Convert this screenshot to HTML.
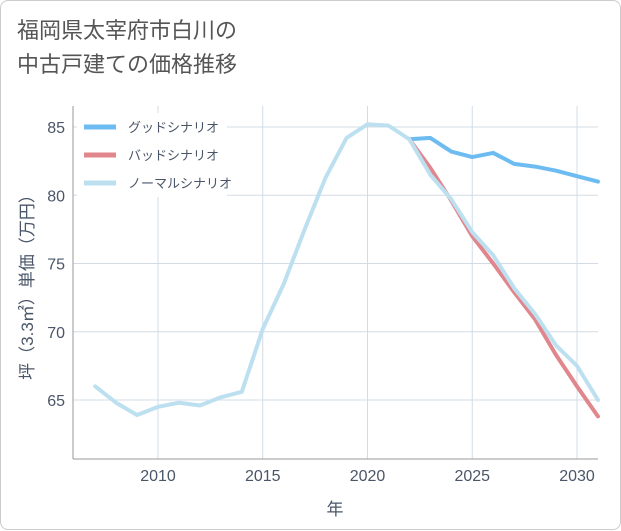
<!DOCTYPE html>
<html><head><meta charset="utf-8"><style>
html,body{margin:0;padding:0;background:#fff;}
#card{position:absolute;left:0;top:0;width:619px;height:528px;border:1px solid #ccc;border-radius:8px;background:#fff;font-family:"Liberation Sans","Noto Sans CJK JP",sans-serif;}
#title{position:absolute;left:16px;top:13px;font-size:22px;line-height:34px;color:#555;}
svg{position:absolute;left:0;top:0;}
</style></head><body>
<div id="card">
<div id="title">福岡県太宰府市白川の<br>中古戸建ての価格推移</div>
<svg id="chart" width="621" height="530"></svg>
</div>
<script>
const years=[2007,2008,2009,2010,2011,2012,2013,2014,2015,2016,2017,2018,2019,2020,2021,2022,2023,2024,2025,2026,2027,2028,2029,2030,2031];
const normal=[66.0,64.8,63.9,64.5,64.8,64.6,65.2,65.6,70.2,73.5,77.5,81.3,84.2,85.2,85.1,84.1,81.5,79.7,77.3,75.6,73.2,71.3,69.0,67.5,65.0];
const goodYears=[2022,2023,2024,2025,2026,2027,2028,2029,2030,2031];
const good=[84.1,84.2,83.2,82.8,83.1,82.3,82.1,81.8,81.4,81.0];
const bad=[84.1,82.0,79.6,77.0,75.0,72.9,70.9,68.3,66.0,63.8];
const xTicks=[2010,2015,2020,2025,2030];
const yTicks=[65,70,75,80,85];
const legendLabels=["グッドシナリオ","バッドシナリオ","ノーマルシナリオ"];
const colors=["#6cbcf2","#e0868c","#bde0f0"];
const svg=document.getElementById('chart');const NS="http://www.w3.org/2000/svg";
const L=72,R=597,T=105,B=458;const TC='#4a5668';
const x=v=>157+(v-2010)*(419/20);
const y=v=>399-(v-65)*(273/20);
function mk(t,a,p){const e=document.createElementNS(NS,t);for(const k in a)e.setAttribute(k,a[k]);(p||svg).appendChild(e);return e;}
const grid=mk('g',{});
xTicks.forEach(v=>{mk('line',{x1:x(v),x2:x(v),y1:T,y2:B,stroke:'#d3dce6'},grid);
const t=mk('text',{x:x(v),y:B+22,'text-anchor':'middle','font-size':16,fill:TC});t.textContent=v;
});
yTicks.forEach(v=>{mk('line',{x1:L,x2:R,y1:y(v),y2:y(v),stroke:'#d3dce6'},grid);
const t=mk('text',{x:L-8,y:y(v)+6,'text-anchor':'end','font-size':16,fill:TC});t.textContent=v;
});
mk('line',{x1:L,x2:L,y1:T,y2:B,stroke:'#999'});mk('line',{x1:L,x2:R,y1:B,y2:B,stroke:'#999'});
const xt=mk('text',{x:334,y:514,'text-anchor':'middle','font-size':17,fill:TC});xt.textContent='年';

const yt=mk('text',{x:32,y:282,'text-anchor':'middle','font-size':17,fill:TC,transform:'rotate(-90 32 282)'});yt.textContent='坪（3.3㎡）単価（万円）';

function line(xs,vs,c,n){const p=mk('polyline',{points:xs.map((v,i)=>x(v)+','+y(vs[i])).join(' '),fill:'none',stroke:c,'stroke-width':4,'stroke-linejoin':'round','stroke-linecap':'round'});
}
line(goodYears,good,colors[0],'good-scenario-line');
line(goodYears,bad,colors[1],'bad-scenario-line');
line(years,normal,colors[2],'normal-scenario-line');
const lg=mk('g',{});
mk('rect',{x:76,y:112,width:150,height:84,fill:'#fff'},lg);
legendLabels.forEach((s,i)=>{const yy=126+i*28;
mk('line',{x1:83,x2:115,y1:yy,y2:yy,stroke:colors[i],'stroke-width':5},lg);
const t=mk('text',{x:127,y:yy+5,'font-size':13,fill:TC},lg);t.textContent=s;
});
</script>
</body></html>
